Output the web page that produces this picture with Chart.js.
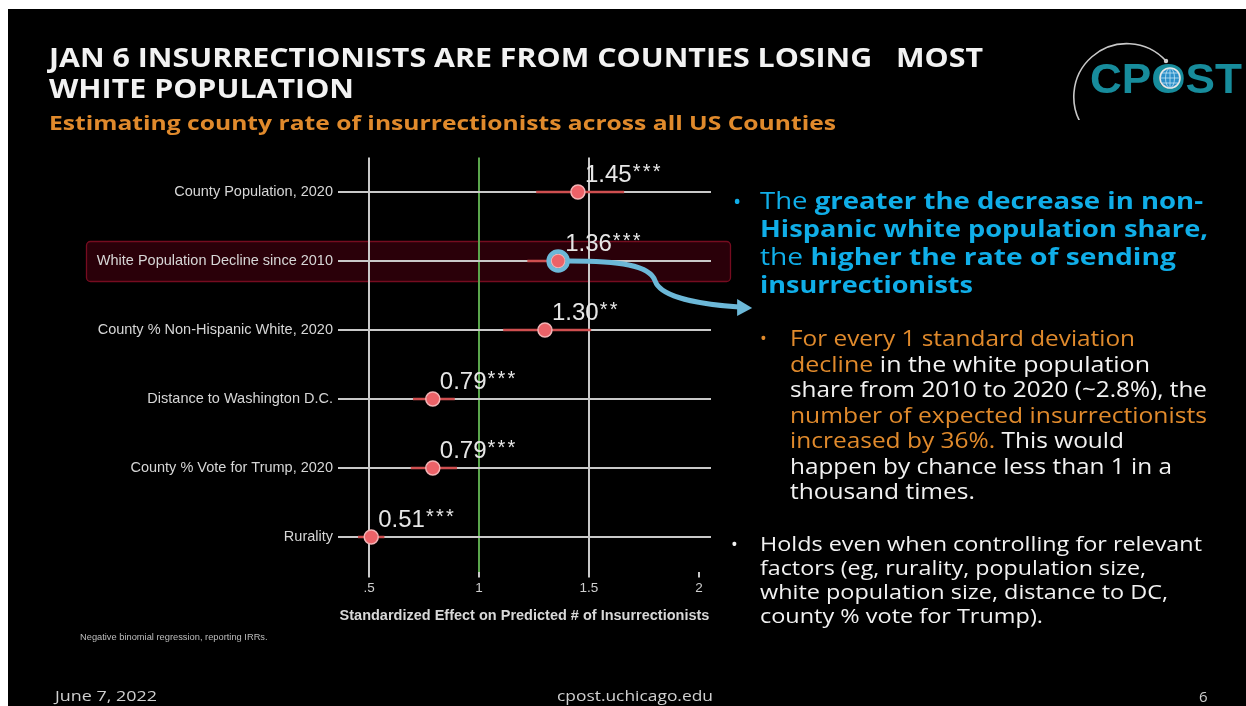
<!DOCTYPE html>
<html>
<head>
<meta charset="utf-8">
<script src="https://cdn.jsdelivr.net/npm/chart.js@4.4.1/dist/chart.umd.min.js"></script>
<style>
  html,body{margin:0;padding:0;}
  body{width:1246px;height:706px;overflow:hidden;position:relative;background:#fff;}
  #slide{position:absolute;left:8px;top:9px;width:1238px;height:697px;background:#000;}
  #c{position:absolute;left:0;top:0;}
  .ln{position:absolute;white-space:nowrap;height:34px;line-height:34px;font-family:"Open Sans",sans-serif;transform-origin:0 50%;}
  .b{font-weight:700;}
  .blue{color:#10aee8;}
  .org{color:#e08a2c;}
  .wht{color:#f2f2f2;}
</style>
</head>
<body>
<div id="slide"></div>
<canvas id="c" width="1246" height="706"></canvas>

<!-- Title -->
<div class="ln b wht" data-w="934" style="left:49px;top:40px;font-size:26px;">JAN 6 INSURRECTIONISTS ARE FROM COUNTIES LOSING&nbsp;&nbsp; MOST</div>
<div class="ln b wht" data-w="305" style="left:49px;top:71px;font-size:26px;">WHITE POPULATION</div>
<div class="ln b org" data-w="787" style="left:49px;top:106px;font-size:20px;">Estimating county rate of insurrectionists across all US Counties</div>

<!-- Logo -->
<svg style="position:absolute;left:1060px;top:20px" width="186" height="100" viewBox="0 0 186 100">
  <path d="M 106 41 A 53 53 0 1 0 100 118" fill="none" stroke="#c8c8c8" stroke-width="1.6"/>
  <circle cx="106" cy="41" r="2.2" fill="#d0d0d0"/>
  <text x="30" y="73" font-family="Liberation Sans, Arial, sans-serif" font-weight="700" font-size="42" fill="#178c9c" textLength="152" lengthAdjust="spacingAndGlyphs">CPOST</text>
  <circle cx="110" cy="58" r="10" fill="#2a8fc8" stroke="#e8e8e8" stroke-width="1.6"/>
  <path d="M 100 58 H 120 M 110 48 V 68 M 102 53 H 118 M 102 63 H 118" stroke="#bfe3f5" stroke-width="0.8" fill="none"/>
  <ellipse cx="110" cy="58" rx="4.5" ry="9.8" fill="none" stroke="#bfe3f5" stroke-width="0.8"/>
</svg>

<!-- Right text: bullet 1 -->
<div class="ln blue" style="left:733px;top:183px;font-size:22px;">•</div>
<div class="ln blue" data-w="443" style="left:760px;top:183px;font-size:24px;">The <span class="b">greater the decrease in non-</span></div>
<div class="ln blue b" data-w="448" style="left:760px;top:211px;font-size:24px;">Hispanic white population share,</div>
<div class="ln blue" data-w="416" style="left:760px;top:239px;font-size:24px;">the <span class="b">higher the rate of sending</span></div>
<div class="ln blue b" data-w="213" style="left:760px;top:267px;font-size:24px;">insurrectionists</div>

<!-- Sub bullet -->
<div class="ln org" style="left:760px;top:321px;font-size:18px;">•</div>
<div class="ln org" data-w="345" style="left:790px;top:321px;font-size:21px;">For every 1 standard deviation</div>
<div class="ln wht" data-w="360" style="left:790px;top:347px;font-size:21px;"><span class="org">decline</span> in the white population</div>
<div class="ln wht" data-w="417" style="left:790px;top:372px;font-size:21px;">share from 2010 to 2020 (~2.8%), the</div>
<div class="ln org" data-w="417" style="left:790px;top:398px;font-size:21px;">number of expected insurrectionists</div>
<div class="ln wht" data-w="334" style="left:790px;top:423px;font-size:21px;"><span class="org">increased by 36%.</span> This would</div>
<div class="ln wht" data-w="382" style="left:790px;top:449px;font-size:21px;">happen by chance less than 1 in a</div>
<div class="ln wht" data-w="185" style="left:790px;top:474px;font-size:21px;">thousand times.</div>

<!-- Bullet 2 -->
<div class="ln wht" style="left:731px;top:527px;font-size:18px;">•</div>
<div class="ln wht" data-w="442" style="left:760px;top:527px;font-size:20px;">Holds even when controlling for relevant</div>
<div class="ln wht" data-w="386" style="left:760px;top:551px;font-size:20px;">factors (eg, rurality, population size,</div>
<div class="ln wht" data-w="408" style="left:760px;top:575px;font-size:20px;">white population size, distance to DC,</div>
<div class="ln wht" data-w="283" style="left:760px;top:599px;font-size:20px;">county % vote for Trump).</div>

<!-- Chart note -->
<div class="ln" style="left:80px;top:620px;font-size:9.3px;color:#bdbdbd;font-family:'Liberation Sans',Arial,sans-serif;">Negative binomial regression, reporting IRRs.</div>

<!-- Footer -->
<div class="ln" data-w="102" style="left:55px;top:679px;font-size:14px;color:#cfcfcf;">June 7, 2022</div>
<div class="ln" data-w="156" style="left:557px;top:679px;font-size:14px;color:#cfcfcf;">cpost.uchicago.edu</div>
<div class="ln" style="left:1199px;top:679px;font-size:15px;color:#cfcfcf;">6</div>

<script>
// ---------- DATA ----------
const rowLabels = [
  "County Population, 2020",
  "White Population Decline since 2010",
  "County % Non-Hispanic White, 2020",
  "Distance to Washington D.C.",
  "County % Vote for Trump, 2020",
  "Rurality"
];
const irr      = [1.45, 1.36, 1.30, 0.79, 0.79, 0.51];
const ciLow    = [1.26, 1.22, 1.11, 0.70, 0.69, 0.45];
const ciHigh   = [1.66, 1.51, 1.51, 0.89, 0.90, 0.57];
const irrText  = ["1.45", "1.36", "1.30", "0.79", "0.79", "0.51"];
const stars    = ["***", "***", "**", "***", "***", "***"];
const xTicks      = [0.5, 1, 1.5, 2];
const xTickLabels = [".5", "1", "1.5", "2"];
const highlightRow = 1;

// ---------- CHART ----------
const FONT = '"Liberation Sans", Arial, sans-serif';
const ciDatasets = rowLabels.map((_, i) => ({
  type: 'line',
  data: [{x: ciLow[i], y: i}, {x: ciHigh[i], y: i}],
  borderColor: '#cf4f50',
  borderWidth: 2.5,
  pointRadius: 0,
  order: 2
}));
const pointDataset = {
  type: 'scatter',
  data: irr.map((v, i) => ({x: v, y: i})),
  backgroundColor: '#ec6268',
  borderColor: '#f3b3b5',
  borderWidth: 1.5,
  pointRadius: 7,
  pointHoverRadius: 7,
  order: 0
};

const highlightPlugin = {
  id: 'highlight',
  beforeDraw(chart) {
    const ctx = chart.ctx, y = chart.scales.y.getPixelForValue(highlightRow);
    ctx.save();
    ctx.beginPath();
    ctx.roundRect(86.5, y - 19.5, 644, 40, 4);
    ctx.fillStyle = '#2a0009';
    ctx.fill();
    ctx.lineWidth = 1.3;
    ctx.strokeStyle = '#760c20';
    ctx.stroke();
    ctx.restore();
  }
};

const labelPlugin = {
  id: 'valueLabels',
  afterDatasetsDraw(chart) {
    const ctx = chart.ctx, xs = chart.scales.x, ys = chart.scales.y;
    const px = xs.getPixelForValue(irr[highlightRow]), py = ys.getPixelForValue(highlightRow);
    ctx.save();
    ctx.strokeStyle = '#6cb8d8';
    ctx.fillStyle = '#6cb8d8';
    ctx.lineWidth = 5;
    ctx.lineCap = 'round';
    ctx.beginPath();
    ctx.moveTo(px + 11, py);
    ctx.bezierCurveTo(px + 60, py, px + 92, py + 4, px + 97, py + 20);
    ctx.bezierCurveTo(px + 103, py + 38, px + 150, py + 44, px + 181, py + 46);
    ctx.stroke();
    ctx.beginPath();
    ctx.moveTo(px + 194, py + 47);
    ctx.lineTo(px + 179, py + 38);
    ctx.lineTo(px + 179, py + 55);
    ctx.closePath();
    ctx.fill();
    ctx.beginPath();
    ctx.lineWidth = 4.5;
    ctx.arc(px, py, 9.5, 0, Math.PI * 2);
    ctx.stroke();
    ctx.restore();

    ctx.save();
    ctx.fillStyle = '#e6e6e6';
    ctx.textBaseline = 'alphabetic';
    ctx.textAlign = 'left';
    irr.forEach((v, i) => {
      const x = xs.getPixelForValue(v) + 7;
      const y = ys.getPixelForValue(i) - 10;
      ctx.font = '24px ' + FONT;
      ctx.fillText(irrText[i], x, y);
      const w = ctx.measureText(irrText[i]).width;
      ctx.font = '20px ' + FONT;
      for (let k = 0; k < stars[i].length; k++) {
        ctx.fillText('*', x + w + 1 + k * 10, y - 4);
      }
    });
    ctx.restore();
  }
};

new Chart(document.getElementById('c'), {
  type: 'scatter',
  data: { datasets: [...ciDatasets, pointDataset] },
  options: {
    responsive: false,
    animation: false,
    devicePixelRatio: 1,
    layout: { padding: { left: 80, right: 535, top: 157.5, bottom: 0 } },
    plugins: { legend: { display: false }, tooltip: { enabled: false } },
    scales: {
      x: {
        type: 'linear',
        min: 0.359,
        max: 2.055,
        afterBuildTicks: s => { s.ticks = xTicks.map(v => ({value: v})); },
        afterFit: s => { s.height = 134.5; },
        border: { display: false },
        grid: {
          color: c => c.tick && c.tick.value === 1 ? '#5aa64c' : (c.tick && c.tick.value === 2 ? 'rgba(0,0,0,0)' : '#c9c9c9'),
          tickColor: '#c9c9c9',
          lineWidth: 2,
          tickLength: 6
        },
        ticks: {
          color: '#cfcfcf',
          font: { family: FONT, size: 13.5 },
          padding: 3,
          maxRotation: 0,
          callback: (v) => xTickLabels[xTicks.indexOf(v)]
        },
        title: {
          display: true,
          text: 'Standardized Effect on Predicted # of Insurrectionists',
          color: '#d8d8d8',
          font: { family: FONT, size: 14.5, weight: 'bold' },
          padding: { top: 0, bottom: 81 }
        }
      },
      y: {
        type: 'linear',
        min: -0.5,
        max: 5.5,
        reverse: true,
        afterBuildTicks: s => { s.ticks = rowLabels.map((_, i) => ({value: i})); },
        afterFit: s => { s.width = 258; },
        border: { display: false },
        grid: { color: '#c9c9c9', lineWidth: 2, drawTicks: false },
        ticks: {
          color: '#d6d6d6',
          font: { family: FONT, size: 14.5 },
          padding: 5,
          callback: (v) => rowLabels[v]
        }
      }
    }
  },
  plugins: [highlightPlugin, labelPlugin]
});

// stretch text lines horizontally to the reference widths (Montserrat-like width)
function fitLines() {
  document.querySelectorAll('[data-w]').forEach(el => {
    el.style.transform = 'none';
    const w = el.getBoundingClientRect().width;
    const k = parseFloat(el.dataset.w) / w;
    el.style.transform = 'scaleX(' + k.toFixed(4) + ')';
  });
}
fitLines();
if (document.fonts && document.fonts.ready) document.fonts.ready.then(fitLines);
</script>
</body>
</html>
